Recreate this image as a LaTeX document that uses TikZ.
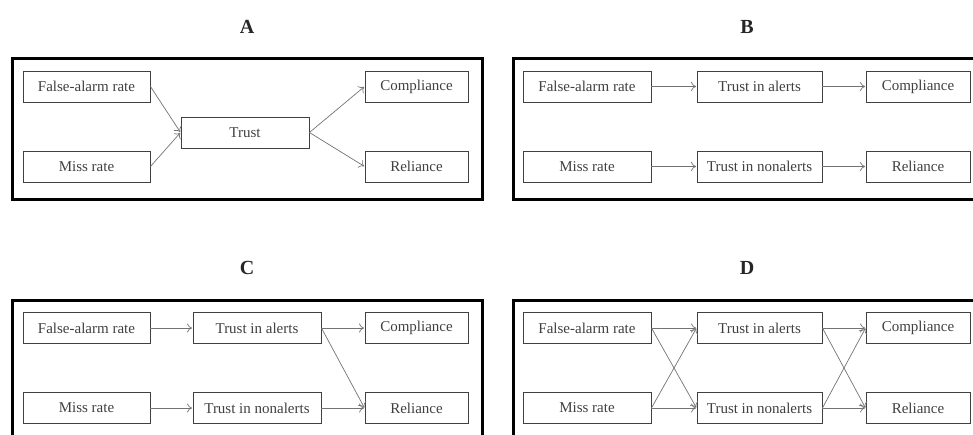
\documentclass[tikz,border=0pt]{standalone}
\usepackage{fontspec}
\setmainfont{Liberation Serif}
\usetikzlibrary{arrows.meta}
\tikzset{
  box/.style={draw=black!75, line width=0.9pt, minimum height=31pt, inner sep=0pt, text=black!75,
              font=\fontsize{15}{15}\selectfont},
  conn/.style={draw=black!55, line width=0.7pt, -{To[length=5pt,width=9pt]}, shorten >=0.5pt},
  frame/.style={draw=black, line width=3pt},
  ttl/.style={font=\fontsize{20}{20}\selectfont\bfseries, text=black!85}
}
\begin{document}
\begin{tikzpicture}[x=1pt,y=-1pt]
\useasboundingbox (0,0) rectangle (973,434);
\clip (0,0) rectangle (973,434);
% titles
\node[ttl] (tA) at (247,27) {A};
\node[ttl] (tB) at (747,27) {B};
\node[ttl] (tC) at (247,268) {C};
\node[ttl] (tD) at (747,268) {D};
% frames
\draw[frame] (12,58) rectangle (482,199);
\draw[frame] (513,58) rectangle (980,199);
\draw[frame] (12,300) rectangle (482,445);
\draw[frame] (513,300) rectangle (980,445);
% Panel A
\node[box, minimum width=127pt] (afa) at (86.5,86.5) {False-alarm rate};
\node[box, minimum width=127pt] (amr) at (86.5,166.5) {Miss rate};
\node[box, minimum width=128pt] (atr) at (245,132.5) {Trust};
\node[box, minimum width=103pt] (aco) at (416.5,86.5) {Compliance};
\node[box, minimum width=103pt] (are) at (416.5,166.5) {Reliance};
\draw[conn] (afa.east) -- (atr.west);
\draw[conn] (amr.east) -- (atr.west);
\draw[conn] (atr.east) -- (aco.west);
\draw[conn] (atr.east) -- (are.west);
% Panel B
\node[box, minimum width=128pt] (bfa) at (587,86.5) {False-alarm rate};
\node[box, minimum width=128pt] (bmr) at (587,166.5) {Miss rate};
\node[box, minimum width=125pt] (bta) at (759.5,86.5) {Trust in alerts};
\node[box, minimum width=125pt] (btn) at (759.5,166.5) {Trust in nonalerts};
\node[box, minimum width=104pt] (bco) at (918,86.5) {Compliance};
\node[box, minimum width=104pt] (bre) at (918,166.5) {Reliance};
\draw[conn] (bfa) -- (bta);
\draw[conn] (bta) -- (bco);
\draw[conn] (bmr) -- (btn);
\draw[conn] (btn) -- (bre);
% Panel C
\node[box, minimum width=127pt] (cfa) at (86.5,328) {False-alarm rate};
\node[box, minimum width=127pt] (cmr) at (86.5,408) {Miss rate};
\node[box, minimum width=128pt] (cta) at (257,328) {Trust in alerts};
\node[box, minimum width=128pt] (ctn) at (257,408) {Trust in nonalerts};
\node[box, minimum width=103pt] (cco) at (416.5,328) {Compliance};
\node[box, minimum width=103pt] (cre) at (416.5,408) {Reliance};
\draw[conn] (cfa) -- (cta);
\draw[conn] (cta) -- (cco);
\draw[conn] (cmr) -- (ctn);
\draw[conn] (ctn) -- (cre);
\draw[conn] (cta.east) -- (cre.west);
% Panel D
\node[box, minimum width=128pt] (dfa) at (587,328) {False-alarm rate};
\node[box, minimum width=128pt] (dmr) at (587,408) {Miss rate};
\node[box, minimum width=125pt] (dta) at (759.5,328) {Trust in alerts};
\node[box, minimum width=125pt] (dtn) at (759.5,408) {Trust in nonalerts};
\node[box, minimum width=104pt] (dco) at (918,328) {Compliance};
\node[box, minimum width=104pt] (dre) at (918,408) {Reliance};
\draw[conn] (dfa) -- (dta);
\draw[conn] (dfa.east) -- (dtn.west);
\draw[conn] (dmr) -- (dtn);
\draw[conn] (dmr.east) -- (dta.west);
\draw[conn] (dta) -- (dco);
\draw[conn] (dta.east) -- (dre.west);
\draw[conn] (dtn) -- (dre);
\draw[conn] (dtn.east) -- (dco.west);
\end{tikzpicture}
\end{document}
